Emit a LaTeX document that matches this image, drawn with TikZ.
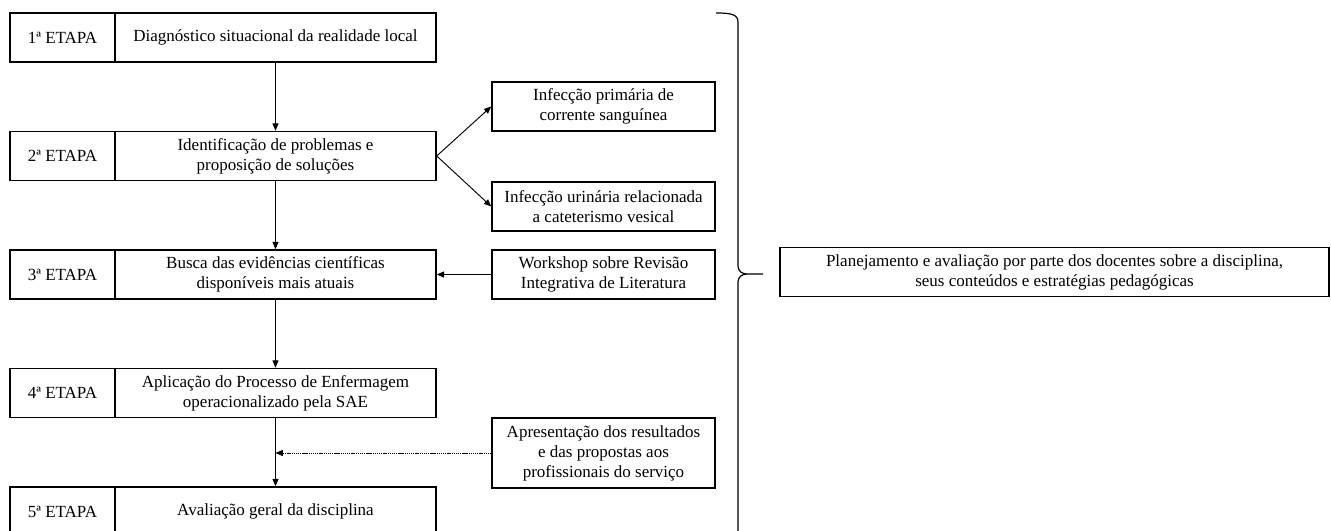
\documentclass[tikz,border=0pt]{standalone}
\usepackage{fontspec}
\setmainfont{Liberation Serif}
\usetikzlibrary{arrows.meta}
\begin{document}
\begin{tikzpicture}[x=0.75pt,y=-0.75pt,
  font=\fontsize{12.75}{15}\selectfont,
  box/.style={draw,line width=1.1pt,inner sep=2pt,align=center,minimum height=36.75pt},
  lbl/.style={box,minimum width=78.75pt},
  txt/.style={box,minimum width=240.75pt},
  side/.style={box,minimum width=167.25pt},
  arr/.style={-{Triangle[length=5.5pt,width=4.5pt]},line width=0.7pt},
  dotarr/.style={arr,line width=0.5pt,dash pattern=on 1pt off 0.6pt}]
\clip (0,0) rectangle (1331,531);
% left column
\node[lbl] (l1) at (62.5,37.5) {1ª ETAPA};
\node[txt] (t1) at (275.5,37.5) {Diagnóstico situacional da realidade local};
\node[lbl] (l2) at (62.5,156) {2ª ETAPA};
\node[txt] (t2) at (275.5,156) {Identificação de problemas e\\proposição de soluções};
\node[lbl] (l3) at (62.5,274.5) {3ª ETAPA};
\node[txt] (t3) at (275.5,274.5) {Busca das evidências científicas\\disponíveis mais atuais};
\node[lbl] (l4) at (62.5,393) {4ª ETAPA};
\node[txt] (t4) at (275.5,393) {Aplicação do Processo de Enfermagem\\operacionalizado pela SAE};
\node[lbl] (l5) at (62.5,511.5) {5ª ETAPA};
\node[txt] (t5) at (275.5,511.5) {Avaliação geral da disciplina};
% side boxes
\node[side] (inf1) at (603.5,106.5) {Infecção primária de\\corrente sanguínea};
\node[side] (inf2) at (603.5,206.5) {Infecção urinária relacionada\\a cateterismo vesical};
\node[side] (work) at (603.5,274.5) {Workshop sobre Revisão\\Integrativa de Literatura};
\node[side,minimum height=52.5pt] (apr) at (603.5,453) {Apresentação dos resultados\\e das propostas aos\\profissionais do serviço};
\node[box,minimum width=411.75pt] (plan) at (1054.5,272) {Planejamento e avaliação por parte dos docentes sobre a disciplina,\\seus conteúdos e estratégias pedagógicas};
% connectors
\draw[arr] (t1) -- (t2);
\draw[arr] (t2.east) -- (inf1.west);
\draw[arr] (t2.east) -- (inf2.west);
\draw[arr] (t2) -- (t3);
\draw[arr] (work) -- (t3);
\draw[arr] (t3) -- (t4);
\draw[arr] (t4) -- (t5);
\coordinate (j) at (t4.south |- apr.west);
\draw[dotarr] (apr.west) -- (j);
% brace (lower end runs past the bottom edge)
\draw[line width=0.9pt] (716,13) .. controls (730,13) and (738,14) .. (738,22)
  -- (738,266) .. controls (738,271) and (742,274) .. (747,274) -- (763,274)
  (747,274) .. controls (742,274) and (738,277) .. (738,282)
  -- (738,545) .. controls (738,553) and (730,554) .. (716,554);
\end{tikzpicture}
\end{document}
